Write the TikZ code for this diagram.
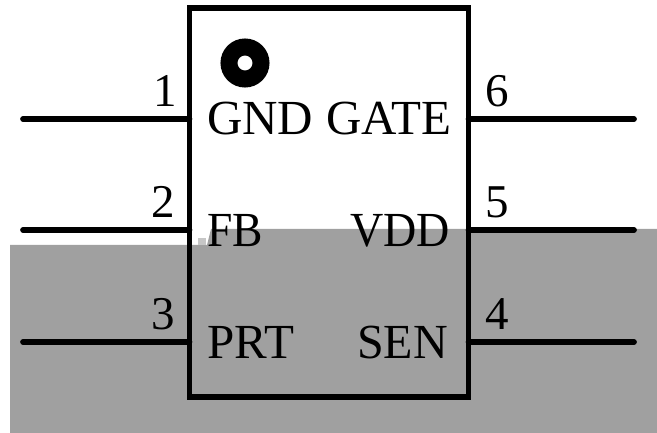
\documentclass[tikz,border=0pt]{standalone}
\usepackage{fontspec}
\setmainfont{Liberation Serif}
\definecolor{greyfill}{RGB}{160,160,160}
\tikzset{
  pinline/.style={line width=5.7pt,line cap=round,black},
  chipbox/.style={draw=black,line width=5.7pt,rectangle,inner sep=0pt,outer sep=0pt,minimum width=279pt,minimum height=389pt,anchor=north west},
  lbl/.style={font=\fontsize{47}{47}\selectfont,inner sep=0pt,text=black,anchor=base},
  pinname/.style={font=\fontsize{49}{49}\selectfont,inner sep=0pt,text=black},
  narrow/.style={xscale=#1,transform shape},
}
\begin{document}
\begin{tikzpicture}[x=1pt,y=-1pt]
\useasboundingbox (0,0) rectangle (657,433);
\fill[white] (0,0) rectangle (657,433);
\fill[greyfill] (10,433) -- (10,245) -- (207,245) -- (211,229) -- (657,229) -- (657,433) -- cycle;
\fill[greyfill!60!white] (198,238) rectangle (206,245);
\node[chipbox] (chip) at (189.5,8) {};
\coordinate (l1) at (23,119);
\coordinate (l2) at (23,230);
\coordinate (l3) at (23,342);
\coordinate (r6) at (634,119);
\coordinate (r5) at (634,230);
\coordinate (r4) at (634,342);
\draw[pinline] (l1) -- (l1 -| chip.west);
\draw[pinline] (l2) -- (l2 -| chip.west);
\draw[pinline] (l3) -- (l3 -| chip.west);
\draw[pinline] (r6) -- (r6 -| chip.east);
\draw[pinline] (r5) -- (r5 -| chip.east);
\draw[pinline] (r4) -- (r4 -| chip.east);
\node[circle,draw=black,line width=17pt,fill=white,minimum size=32pt,inner sep=0pt,outer sep=0pt] (dot) at (245,63) {};
\node[lbl] (n1) at (165,107) {1};
\node[lbl] (n2) at (163,218) {2};
\node[lbl] (n3) at (163,330) {3};
\node[lbl] (n6) at (497,107) {6};
\node[lbl] (n5) at (497,218) {5};
\node[lbl] (n4) at (497,330) {4};
\node[pinname,anchor=base west] (gnd) at (207,135) {GND};
\node[pinname,anchor=base east] (gate) at (452,135) {GATE};
\node[pinname,narrow=.93,anchor=base west] (fb) at (207,247) {FB};
\node[pinname,narrow=.94,anchor=base east] (vdd) at (450,247) {VDD};
\node[pinname,anchor=base west] (prt) at (207,358) {PRT};
\node[pinname,narrow=.98,anchor=base east] (sen) at (448,358) {SEN};
\end{tikzpicture}
\end{document}
